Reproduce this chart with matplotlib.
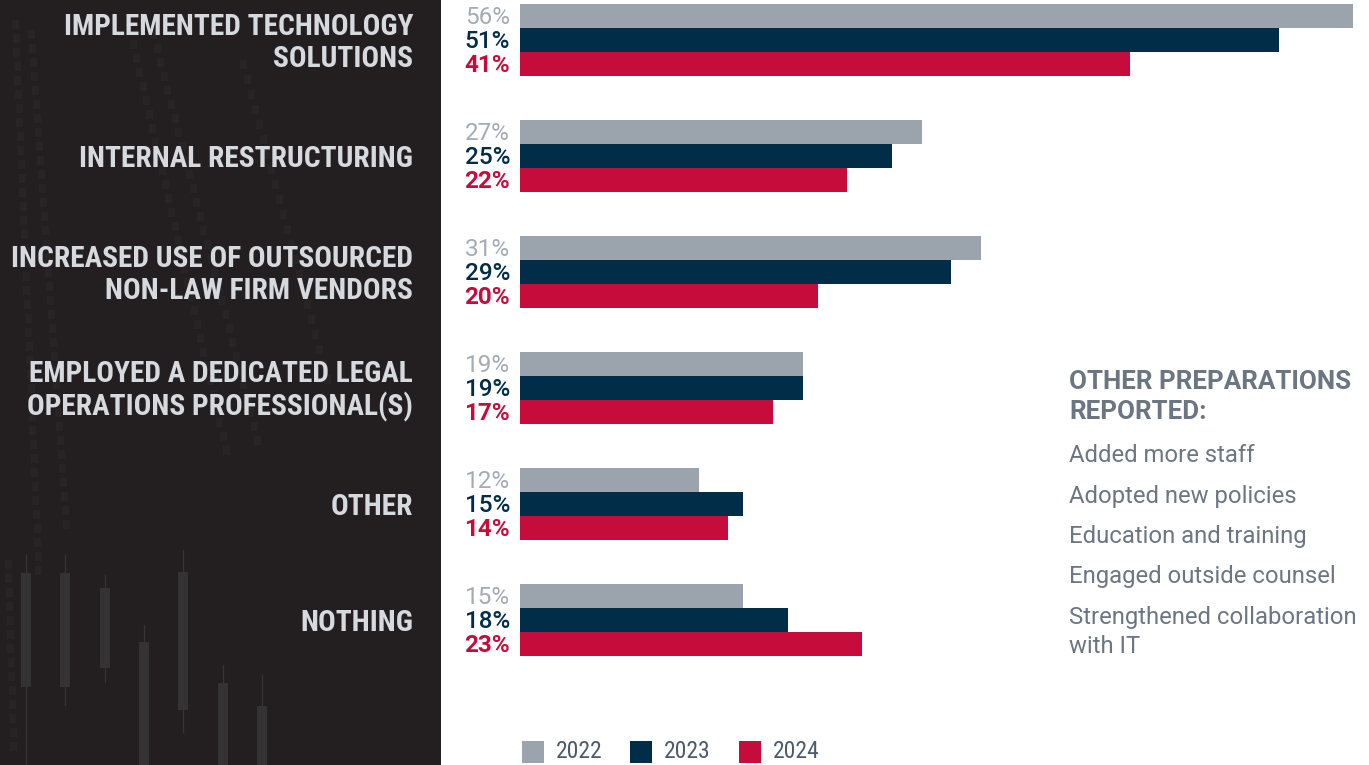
import matplotlib
matplotlib.use("Agg")
import matplotlib.pyplot as plt
from matplotlib import font_manager
from matplotlib.patches import Rectangle
import numpy as np

# ---- data -------------------------------------------------------------
categories = [
    "IMPLEMENTED TECHNOLOGY\nSOLUTIONS",
    "INTERNAL RESTRUCTURING",
    "INCREASED USE OF OUTSOURCED\nNON-LAW FIRM VENDORS",
    "EMPLOYED A DEDICATED LEGAL\nOPERATIONS PROFESSIONAL(S)",
    "OTHER",
    "NOTHING",
]
years = ["2022", "2023", "2024"]
values_2022 = [56, 27, 31, 19, 12, 15]
values_2023 = [51, 25, 29, 19, 15, 18]
values_2024 = [41, 22, 20, 17, 14, 23]
other_title = "OTHER PREPARATIONS\nREPORTED:"
other_items = [
    "Added more staff",
    "Adopted new policies",
    "Education and training",
    "Engaged outside counsel",
    "Strengthened collaboration\nwith IT",
]

# ---- styling ----------------------------------------------------------
names = {f.name for f in font_manager.fontManager.ttflist}
FONT = "Roboto" if "Roboto" in names else "DejaVu Sans"
COND = "Roboto Condensed" if "Roboto Condensed" in names else FONT
plt.rcParams["font.family"] = FONT

C22, C23, C24 = "#9ba3ad", "#012d48", "#c60c3a"
LABEL_COLS = ["#a3abb4", "#012d48", "#c60c3a"]
LABEL_WEIGHTS = ["normal", "medium", "bold"]
PANEL = "#231f20"
CAT_TEXT = "#d6dade"
SIDE_TEXT = "#6c7683"

W, H = 1369, 765
fig = plt.figure(figsize=(W / 100, H / 100), dpi=100)
fig.patch.set_facecolor("white")

# dark side panel with faint candlestick decoration
deco = fig.add_axes([0, 0, 441 / W, 1], zorder=-1)
deco.set_xlim(0, 441)
deco.set_ylim(H, 0)
deco.set_facecolor(PANEL)
for s in deco.spines.values():
    s.set_visible(False)
deco.set_xticks([])
deco.set_yticks([])
candles = [  # x, wick top, wick bottom, body top, body bottom
    (26, 555, 765, 573, 687),
    (65, 555, 705, 573, 687),
    (105, 575, 682, 588, 668),
    (144, 625, 765, 642, 765),
    (183, 550, 732, 572, 710),
    (223, 665, 765, 683, 765),
    (262, 675, 765, 706, 765),
]
for x, wt, wb, bt, bb in candles:
    deco.plot([x, x], [wt, wb], color="#353334", lw=1, zorder=1)
    deco.add_patch(Rectangle((x - 5, bt), 10, bb - bt, facecolor="#343233",
                             edgecolor="none", zorder=1))
# faint dotted streaks of small squares
for x0, y0, dx, dy, n in [(12, 20, 0.6, 14, 40), (28, 30, 1.0, 14, 36),
                          (130, 40, 3.2, 14, 30), (150, 30, 3.6, 14, 30),
                          (240, 60, 4.0, 15, 22), (5, 560, 0.4, 14, 14)]:
    for k in range(n):
        deco.add_patch(Rectangle((x0 + k * dx, y0 + k * dy), 7, 9,
                                 facecolor="#282425", edgecolor="none", zorder=0.5))

# ---- bar chart --------------------------------------------------------
px_per_pct = (1353 - 520) / 56.0
x0_px = 520
ax = fig.add_axes([x0_px / W, 0, 1 - x0_px / W, 1])
ax.set_xlim(0, (W - x0_px) / px_per_pct)
group_px = 116.0
first_center = 40.0
ax.set_ylim((H - first_center) / group_px, -first_center / group_px)
ax.axis("off")

bar_h = 24 / group_px
y = np.arange(len(categories))
series = [values_2022, values_2023, values_2024]
colors = [C22, C23, C24]
for j, (vals, col) in enumerate(zip(series, colors)):
    pos = y + (j - 1) * bar_h
    ax.barh(pos, vals, height=bar_h, color=col, edgecolor="none")
    for p, v in zip(pos, vals):
        ax.annotate(f"{v}%", xy=(0, p), xytext=(-10, -2), textcoords="offset pixels",
                    ha="right", va="center", fontsize=17.5, color=LABEL_COLS[j],
                    fontweight=LABEL_WEIGHTS[j], annotation_clip=False)

for yi, cat in zip(y, categories):
    ax.annotate(cat, xy=(0, yi), xytext=(413 - x0_px, -3), textcoords="offset pixels",
                ha="right", va="center", fontsize=21.2, fontweight="bold",
                color=CAT_TEXT, family=COND, linespacing=1.18,
                annotation_clip=False)

# ---- legend -----------------------------------------------------------
leg_x = [522, 630, 739]
for lx, yr, col in zip(leg_x, years, colors):
    fig.patches.append(Rectangle((lx / W, 1 - 763 / H), 22 / W, 22 / H,
                                 transform=fig.transFigure, facecolor=col,
                                 edgecolor="none"))
    fig.text((lx + 34) / W, 1 - 752 / H, yr, ha="left", va="center",
             fontsize=17, color="#4b5b6c", family=COND)

# ---- side notes -------------------------------------------------------
fig.text(1069 / W, 1 - 397 / H, other_title, ha="left", va="center",
         fontsize=18.7, fontweight="bold", color=SIDE_TEXT, linespacing=1.35)
item_y = [456, 496, 537, 577, 632]
for iy, item in zip(item_y, other_items):
    fig.text(1069 / W, 1 - iy / H, item, ha="left", va="center",
             fontsize=17.2, color=SIDE_TEXT, linespacing=1.3)

fig.savefig("out.png", dpi=100, facecolor=fig.get_facecolor())
